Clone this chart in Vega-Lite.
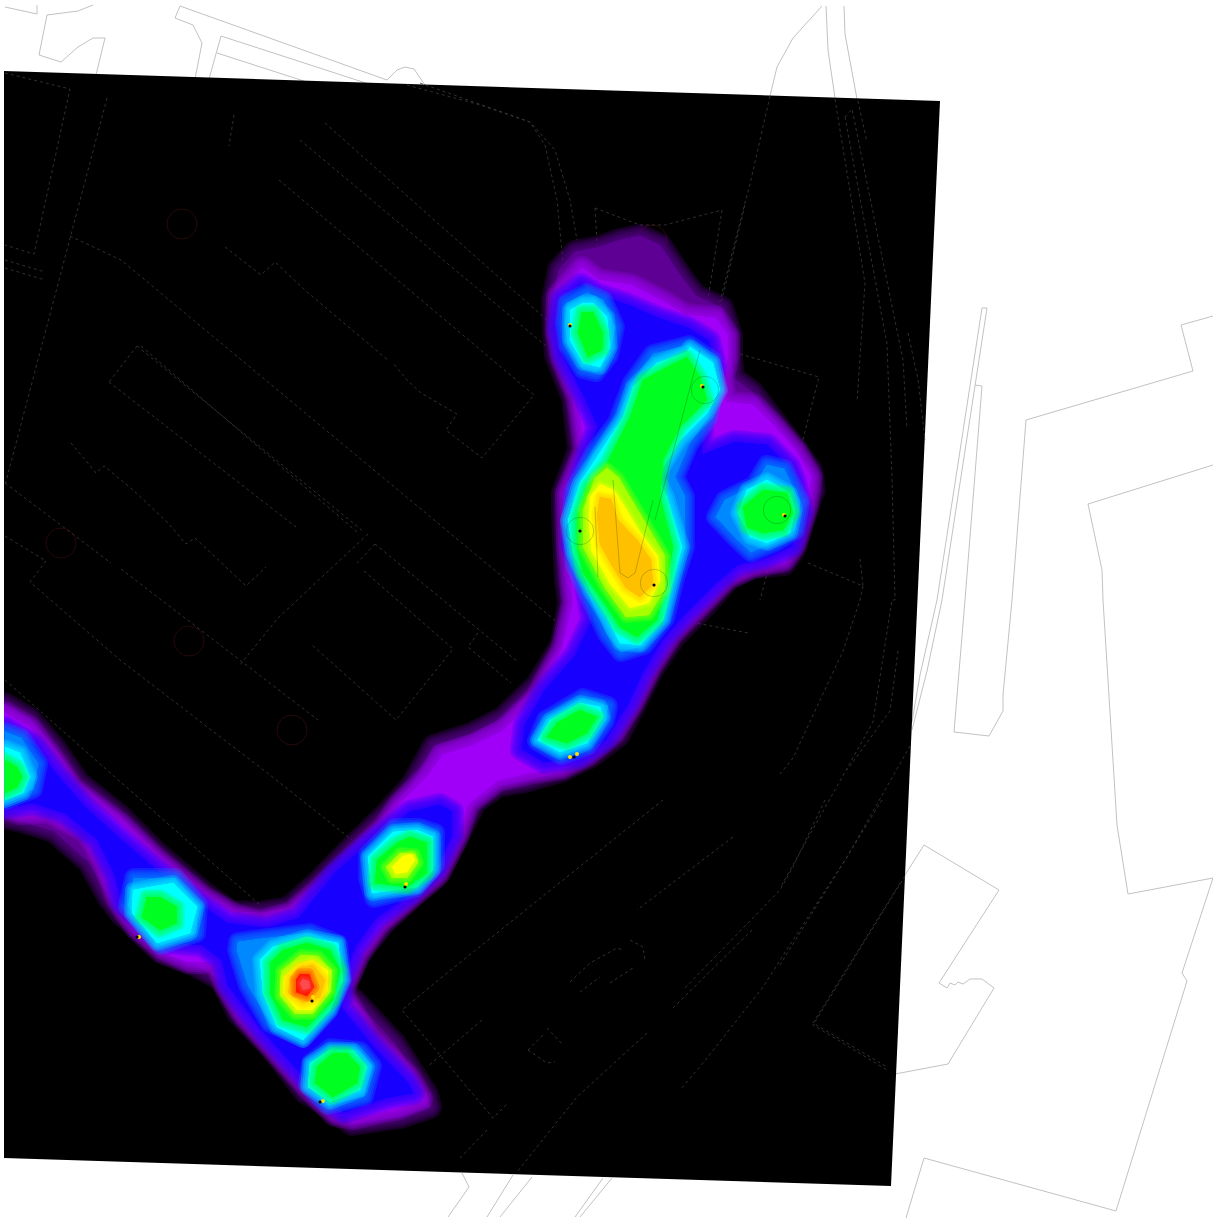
{"$schema":"https://vega.github.io/schema/vega-lite/v6.json","width":1213,"height":1218,"padding":0,"autosize":{"type":"none"},"background":"white","config":{"view":{"stroke":null}},
"projection":{"type":"identity","scale":1,"translate":[0,0]},
"datasets":{
"basemap":[{"name":"site outlines","shape":{"type":"MultiLineString","coordinates":[
[[5,7],[37,14],[37,5]],
[[93,5],[78,11],[47,15],[39,55],[61,62],[78,47],[93,38],[105,38],[96,75]],
[[180,6],[175,18],[193,25],[202,43],[195,79]],
[[180,6],[387,80],[397,70],[405,67],[414,69],[427,88]],
[[221,36],[209,79]],[[221,36],[375,86]],[[217,53],[310,83]],
[[822,6],[793,38],[777,67],[770,96]],[[826,6],[828,50],[835,98]],[[844,6],[845,34],[857,99]],
[[982,308],[987,308],[942,600],[927,671],[912,730]],[[982,308],[937,600],[920,675],[912,722]],
[[975,385],[982,386],[965,600],[954,732],[989,736],[1003,711],[1003,695],[1012,600],[1026,420],[1193,371],[1181,325],[1213,316]],
[[1213,465],[1088,504],[1102,570],[1103,600],[1117,825],[1128,894],[1213,878],[1182,973],[1187,981],[1116,1211],[924,1158],[906,1218]],
[[905,875],[924,845],[999,890],[939,983],[947,988],[950,983],[955,985],[958,982],[963,984],[970,979],[982,979],[994,988],[948,1064],[895,1074]],
[[462,1173],[469,1187],[448,1217]],[[513,1175],[487,1217]],[[532,1177],[500,1217]],[[603,1178],[575,1217]],[[612,1178],[580,1217]]
]}}],
"sheet":[{"name":"raster","shape":{"type":"Polygon","coordinates":[[[4,71],[940,101],[891,1186],[4,1158],[4,71]]]}}],
"mask":[{"name":"margin","shape":{"type":"Polygon","coordinates":[[[0,0],[4,0],[4,1218],[0,1218],[0,0]]]}}],
"plan":[{"name":"plan lines","shape":{"type":"MultiLineString","coordinates":[
[[5,73],[70,89],[34,254],[5,245]],[[107,98],[5,485]],[[234,115],[229,146]],
[[325,123],[548,321]],[[300,140],[546,346]],[[279,180],[534,395],[482,458],[446,430],[457,414],[421,393],[407,380],[393,363]],
[[225,247],[261,275],[275,262],[307,292],[389,361]],[[70,236],[121,260],[557,622]],
[[137,346],[364,532]],[[141,346],[357,532]],[[109,382],[296,527]],[[137,346],[109,382]],
[[71,443],[96,473],[104,466],[132,489],[168,523],[186,544],[195,538],[228,569],[246,586],[266,567]],
[[5,483],[111,563]],[[5,536],[46,561],[30,582],[120,660],[270,775],[352,840]],[[5,680],[260,905]],
[[121,569],[318,720]],[[368,534],[278,618],[239,666]],[[375,544],[357,563]],[[375,544],[518,662]],[[364,571],[453,649],[396,720],[312,645]],
[[478,633],[468,647],[511,683]],
[[5,260],[45,272]],[[5,268],[45,280]],
[[663,800],[447,973],[402,1010],[493,1118],[508,1103]],[[733,837],[637,910]],[[482,1020],[427,1067]],
[[647,1033],[577,1097],[517,1172]],[[825,800],[793,867],[780,890],[683,990]],[[882,800],[847,857],[793,940],[763,987],[703,1063],[680,1090]],
[[900,883],[813,1023],[887,1067]],[[487,1130],[460,1158]],[[752,930],[673,1008]],
[[570,982],[590,963],[617,948],[623,950]],[[580,992],[600,977]],[[610,983],[633,968]],[[630,940],[643,947],[645,960]],
[[528,1050],[545,1033]],[[547,1028],[563,1045]],[[528,1050],[547,1063],[555,1062]],
[[770,96],[750,184],[740,222],[700,380]],[[835,99],[865,283],[857,402]],[[845,117],[852,109],[903,360],[907,429]],[[845,117],[887,344],[892,478],[895,600],[892,600],[873,722],[780,888]],
[[858,101],[867,142]],[[908,333],[918,379],[925,440]],[[740,354],[819,377],[793,478],[760,600]],[[808,563],[863,586],[860,559]],[[863,586],[860,600],[843,651],[793,758],[780,774]],
[[910,746],[847,857],[780,965]],[[905,876],[813,1025],[887,1070]],[[898,651],[890,711],[847,770]],
[[407,85],[480,105],[530,122],[555,150],[570,200],[577,240]],[[420,83],[530,122],[545,145],[557,200],[565,283]],
[[595,208],[640,225],[665,225],[722,210],[700,350]],[[595,208],[600,290]],[[745,205],[712,340]],[[680,620],[748,633]]
]}}],
"contours":[
{"level":"a","pass":[1,2,3,4,5,6],"shape":{"type":"Polygon","coordinates":[[[575,252],[600,247],[620,240],[640,236],[660,245],[682,278],[696,296],[722,308],[731,335],[731,357],[733,378],[752,392],[772,418],[795,448],[811,470],[814,490],[811,497],[804,518],[794,550],[784,564],[753,567],[730,578],[703,608],[675,636],[652,670],[635,704],[618,736],[590,757],[561,771],[525,781],[498,786],[475,802],[454,844],[435,878],[413,895],[376,925],[361,950],[342,991],[354,1000],[395,1044],[427,1095],[430,1107],[400,1117],[352,1124],[331,1108],[305,1092],[272,1049],[238,1013],[222,980],[162,947],[122,915],[109,898],[89,862],[54,831],[22,821],[4,817],[4,704],[30,719],[55,748],[78,782],[119,815],[156,852],[203,892],[231,912],[260,913],[289,908],[318,882],[351,848],[385,815],[412,785],[434,746],[472,734],[503,718],[537,685],[562,644],[569,603],[566,580],[563,513],[563,493],[579,450],[573,398],[556,355],[554,333],[553,300],[559,270],[575,252]]]}},
{"level":"b","pass":[1,2,3,4,5,6],"shape":{"type":"Polygon","coordinates":[[[582,268],[558,296],[557,333],[562,358],[578,398],[585,450],[567,493],[568,547],[573,603],[562,650],[537,697],[503,731],[472,746],[443,755],[429,775],[399,805],[384,828],[317,892],[292,913],[260,922],[235,915],[204,898],[157,860],[121,825],[72,788],[55,762],[30,728],[4,713],[4,807],[20,813],[49,812],[87,832],[105,864],[118,900],[137,929],[162,952],[188,962],[217,962],[225,985],[245,1017],[277,1053],[304,1083],[335,1115],[353,1118],[398,1108],[421,1099],[408,1076],[368,1037],[342,993],[358,955],[383,923],[416,893],[439,873],[458,834],[468,804],[498,780],[528,773],[561,768],[587,755],[613,733],[632,704],[652,664],[672,633],[699,606],[727,578],[752,567],[784,560],[795,544],[807,505],[811,477],[796,451],[773,425],[753,405],[726,402],[722,380],[728,356],[728,336],[716,318],[685,315],[664,302],[631,285],[598,280],[582,268]]]}},
{"level":"c","pass":[1,2,3,4,5,6],"shape":{"type":"Polygon","coordinates":[[[581,285],[562,300],[558,327],[563,355],[585,398],[598,427],[588,452],[575,495],[572,545],[585,578],[592,620],[575,656],[545,690],[525,725],[522,749],[544,762],[578,758],[606,739],[628,704],[642,674],[662,640],[686,613],[716,583],[737,565],[765,558],[792,546],[802,512],[795,482],[789,467],[767,445],[735,442],[702,455],[702,427],[708,396],[715,367],[709,341],[688,328],[658,318],[628,305],[598,295],[581,285]]]}},
{"level":"c","pass":[1,2,3,4,5,6],"shape":{"type":"Polygon","coordinates":[[[5,728],[34,745],[56,774],[86,808],[119,838],[154,868],[197,902],[227,923],[267,928],[299,918],[336,872],[371,842],[410,812],[440,805],[452,812],[452,835],[436,869],[409,895],[376,918],[355,947],[342,981],[342,1009],[373,1046],[408,1083],[413,1093],[386,1098],[344,1112],[324,1099],[295,1067],[262,1030],[242,1004],[228,985],[222,960],[202,945],[162,942],[137,916],[122,903],[115,875],[98,840],[65,813],[33,803],[5,808],[5,728]]]}},
{"level":"d","pass":[2,3,4,5,6],"shape":{"type":"Polygon","coordinates":[[[567,303],[565,323],[568,345],[583,369],[596,372],[609,355],[615,327],[603,300],[587,293],[567,303]]]}},
{"level":"d","pass":[2,3,4,5,6],"shape":{"type":"Polygon","coordinates":[[[689,345],[712,360],[715,387],[708,418],[689,444],[675,477],[685,497],[685,547],[675,578],[665,618],[644,645],[621,652],[607,634],[591,600],[575,565],[570,523],[575,489],[594,453],[617,423],[632,383],[653,354],[689,345]]]}},
{"level":"d","pass":[2,3,4,5,6],"shape":{"type":"Polygon","coordinates":[[[755,485],[725,500],[716,517],[737,539],[751,552],[775,542],[795,530],[800,502],[784,469],[767,465],[755,485]]]}},
{"level":"d","pass":[2,3,4,5,6],"shape":{"type":"Polygon","coordinates":[[[583,698],[546,720],[537,741],[561,755],[587,746],[605,721],[608,706],[583,698]]]}},
{"level":"d","pass":[2,3,4,5,6],"shape":{"type":"Polygon","coordinates":[[[5,732],[21,738],[38,764],[33,789],[5,800],[5,732]]]}},
{"level":"d","pass":[2,3,4,5,6],"shape":{"type":"Polygon","coordinates":[[[134,878],[128,906],[144,926],[161,945],[196,933],[198,905],[175,878],[153,878],[134,878]]]}},
{"level":"d","pass":[2,3,4,5,6],"shape":{"type":"Polygon","coordinates":[[[395,828],[368,855],[368,878],[374,898],[415,888],[435,865],[435,833],[419,828],[395,828]]]}},
{"level":"d","pass":[2,3,4,5,6],"shape":{"type":"Polygon","coordinates":[[[238,942],[237,950],[248,985],[270,1023],[303,1038],[329,1010],[342,979],[338,944],[310,933],[268,938],[238,942]]]}},
{"level":"d","pass":[2,3,4,5,6],"shape":{"type":"Polygon","coordinates":[[[331,1048],[311,1063],[308,1085],[328,1105],[364,1096],[372,1066],[360,1051],[331,1048]]]}},
{"level":"e","pass":[3,4,5,6],"shape":{"type":"Polygon","coordinates":[[[583,303],[570,310],[570,340],[583,363],[600,367],[610,347],[607,317],[593,303],[583,303]]]}},
{"level":"e","pass":[3,4,5,6],"shape":{"type":"Polygon","coordinates":[[[690,347],[713,363],[720,390],[707,413],[680,440],[657,477],[667,497],[682,547],[673,580],[663,620],[640,645],[620,643],[607,617],[590,590],[573,553],[568,520],[580,483],[597,457],[623,417],[633,387],[657,363],[687,352],[690,347]]]}},
{"level":"e","pass":[3,4,5,6],"shape":{"type":"Polygon","coordinates":[[[747,490],[738,513],[750,537],[767,543],[790,533],[795,510],[790,493],[767,480],[747,490]]]}},
{"level":"e","pass":[3,4,5,6],"shape":{"type":"Polygon","coordinates":[[[580,703],[550,720],[538,740],[560,752],[587,743],[603,717],[600,707],[580,703]]]}},
{"level":"e","pass":[3,4,5,6],"shape":{"type":"Polygon","coordinates":[[[5,747],[20,753],[30,777],[23,793],[5,800],[5,747]]]}},
{"level":"e","pass":[3,4,5,6],"shape":{"type":"Polygon","coordinates":[[[133,890],[132,913],[157,943],[190,933],[197,907],[173,883],[150,887],[133,890]]]}},
{"level":"e","pass":[3,4,5,6],"shape":{"type":"Polygon","coordinates":[[[393,832],[368,857],[372,893],[417,887],[433,870],[433,837],[417,830],[393,832]]]}},
{"level":"e","pass":[3,4,5,6],"shape":{"type":"Polygon","coordinates":[[[260,960],[263,993],[277,1027],[303,1040],[330,1010],[343,980],[338,943],[307,937],[273,947],[260,960]]]}},
{"level":"e","pass":[3,4,5,6],"shape":{"type":"Polygon","coordinates":[[[330,1050],[310,1063],[308,1087],[330,1102],[360,1090],[367,1067],[353,1050],[330,1050]]]}},
{"level":"f","pass":[3,4,5,6],"shape":{"type":"Polygon","coordinates":[[[582,312],[578,333],[588,357],[602,350],[603,333],[593,312],[582,312]]]}},
{"level":"f","pass":[3,4,5,6],"shape":{"type":"Polygon","coordinates":[[[687,357],[700,377],[707,400],[680,427],[663,460],[660,497],[673,547],[667,580],[657,620],[637,637],[620,627],[607,607],[583,573],[577,547],[577,517],[587,487],[607,463],[630,417],[643,380],[667,367],[687,357]]]}},
{"level":"f","pass":[3,4,5,6],"shape":{"type":"Polygon","coordinates":[[[763,490],[743,507],[747,527],[763,533],[783,530],[793,513],[787,493],[763,490]]]}},
{"level":"f","pass":[3,4,5,6],"shape":{"type":"Polygon","coordinates":[[[580,710],[557,723],[547,737],[567,743],[587,733],[597,717],[580,710]]]}},
{"level":"f","pass":[3,4,5,6],"shape":{"type":"Polygon","coordinates":[[[5,760],[17,767],[22,777],[17,787],[5,793],[5,760]]]}},
{"level":"f","pass":[3,4,5,6],"shape":{"type":"Polygon","coordinates":[[[147,897],[142,917],[160,930],[177,923],[177,907],[160,897],[147,897]]]}},
{"level":"f","pass":[3,4,5,6],"shape":{"type":"Polygon","coordinates":[[[397,843],[377,860],[375,883],[407,887],[427,873],[427,843],[410,837],[397,843]]]}},
{"level":"f","pass":[3,4,5,6],"shape":{"type":"Polygon","coordinates":[[[270,963],[270,993],[283,1020],[307,1027],[333,1000],[340,970],[330,950],[307,943],[283,950],[270,963]]]}},
{"level":"f","pass":[3,4,5,6],"shape":{"type":"Polygon","coordinates":[[[333,1053],[317,1067],[315,1083],[333,1097],[357,1083],[360,1067],[347,1053],[333,1053]]]}},
{"level":"g","pass":[4,5,6],"shape":{"type":"Polygon","coordinates":[[[607,468],[595,478],[583,510],[583,547],[605,588],[626,617],[649,615],[665,589],[665,556],[648,527],[633,502],[619,478],[607,468]]]}},
{"level":"g","pass":[4,5,6],"shape":{"type":"Polygon","coordinates":[[[400,853],[386,867],[392,878],[407,878],[418,863],[415,854],[400,853]]]}},
{"level":"g","pass":[4,5,6],"shape":{"type":"Polygon","coordinates":[[[281,971],[280,996],[295,1014],[312,1014],[330,992],[332,971],[318,956],[301,955],[281,971]]]}},
{"level":"h","pass":[5,6],"shape":{"type":"Polygon","coordinates":[[[600,484],[590,497],[589,520],[591,550],[610,584],[630,608],[649,603],[660,580],[658,556],[640,532],[625,507],[614,490],[600,484]]]}},
{"level":"h","pass":[5,6],"shape":{"type":"Polygon","coordinates":[[[403,856],[392,867],[396,874],[407,872],[415,860],[412,854],[403,856]]]}},
{"level":"h","pass":[5,6],"shape":{"type":"Polygon","coordinates":[[[284,977],[283,993],[297,1010],[312,1010],[328,990],[328,971],[313,960],[298,964],[284,977]]]}},
{"level":"i","pass":[4,5,6],"shape":{"type":"Polygon","coordinates":[[[600,497],[611,499],[618,520],[638,541],[651,560],[653,584],[640,597],[626,588],[611,564],[600,544],[597,515],[600,497]]]}},
{"level":"i","pass":[4,5,6],"shape":{"type":"Polygon","coordinates":[[[290,977],[288,993],[303,1003],[320,997],[325,980],[313,965],[300,967],[290,977]]]}},
{"level":"j","pass":[4,5,6],"shape":{"type":"Polygon","coordinates":[[[296,980],[296,992],[307,996],[314,987],[309,974],[300,974],[296,980]]]}},
{"level":"k","pass":[5,6],"shape":{"type":"Polygon","coordinates":[[[300,983],[303,990],[310,988],[309,981],[303,979],[300,983]]]}}
],
"overlay":[{"name":"plan over heat","shape":{"type":"MultiLineString","coordinates":[[[613,480],[620,573],[628,578],[635,573],[653,500]],[[595,507],[598,577]],[[700,350],[655,520]]]}}],
"redRings":[{"lon":182,"lat":224},{"lon":61,"lat":543},{"lon":189,"lat":641},{"lon":292,"lat":730},{"lon":652,"lat":240}],
"greenRings":[{"lon":705,"lat":390},{"lon":654,"lat":583},{"lon":777,"lat":510},{"lon":580,"lat":531}],
"yellowDots":[{"lon":570,"lat":325},{"lon":702,"lat":386},{"lon":784,"lat":515},{"lon":570,"lat":757},{"lon":577,"lat":754},{"lon":406,"lat":884},{"lon":313,"lat":997},{"lon":139,"lat":937},{"lon":323,"lat":1101}],
"blackDots":[{"lon":570,"lat":326},{"lon":703,"lat":387},{"lon":580,"lat":531},{"lon":654,"lat":585},{"lon":785,"lat":516},{"lon":574,"lat":757},{"lon":405,"lat":887},{"lon":312,"lat":1001},{"lon":137,"lat":937},{"lon":320,"lat":1102}]
},
"layer":[
{"data":{"name":"basemap"},"mark":{"type":"geoshape","filled":false,"stroke":"#c2c2c2","strokeWidth":1},"encoding":{"shape":{"field":"shape","type":"geojson"}}},
{"data":{"name":"sheet"},"mark":{"type":"geoshape","fill":"#000000","stroke":null},"encoding":{"shape":{"field":"shape","type":"geojson"}}},
{"data":{"name":"plan"},"mark":{"type":"geoshape","filled":false,"stroke":"#3c3c3c","strokeWidth":0.8,"strokeDash":[3,3]},"encoding":{"shape":{"field":"shape","type":"geojson"}}},
{"data":{"name":"redRings"},"mark":{"type":"point","shape":"circle","size":900,"filled":false,"stroke":"#4a1010","strokeWidth":0.8},"encoding":{"longitude":{"field":"lon","type":"quantitative"},"latitude":{"field":"lat","type":"quantitative"}}},
{"data":{"name":"contours"},"transform":[{"flatten":["pass"]}],"mark":{"type":"geoshape","strokeOpacity":0.24,"strokeJoin":"round"},"encoding":{"shape":{"field":"shape","type":"geojson"},
"fill":{"field":"level","type":"nominal","legend":null,"scale":{"domain":["a","b","c","d","e","f","g","h","i","j","k"],"range":["#5e0094","#a000f8","#1800ff","#0088ff","#00ffff","#00ff20","#a8ff00","#ffff00","#ffc000","#ff1800","#ff4a50"]}},
"stroke":{"field":"level","type":"nominal","legend":null,"scale":{"domain":["a","b","c","d","e","f","g","h","i","j","k"],"range":["#5e0094","#a000f8","#1800ff","#0088ff","#00ffff","#00ff20","#a8ff00","#ffff00","#ffc000","#ff1800","#ff4a50"]}},
"strokeWidth":{"field":"pass","type":"quantitative","legend":null,"scale":{"domain":[1,6],"range":[24,3]}}}},
{"data":{"name":"overlay"},"mark":{"type":"geoshape","filled":false,"stroke":"#003000","strokeOpacity":0.35,"strokeWidth":0.7},"encoding":{"shape":{"field":"shape","type":"geojson"}}},
{"data":{"name":"greenRings"},"mark":{"type":"point","shape":"circle","size":750,"filled":false,"stroke":"#004020","strokeOpacity":0.5,"strokeWidth":0.7},"encoding":{"longitude":{"field":"lon","type":"quantitative"},"latitude":{"field":"lat","type":"quantitative"}}},
{"data":{"name":"yellowDots"},"mark":{"type":"point","shape":"circle","size":16,"filled":true,"fill":"#ffe000","opacity":1,"stroke":null},"encoding":{"longitude":{"field":"lon","type":"quantitative"},"latitude":{"field":"lat","type":"quantitative"}}},
{"data":{"name":"blackDots"},"mark":{"type":"point","shape":"circle","size":10,"filled":true,"fill":"#000000","opacity":1,"stroke":null},"encoding":{"longitude":{"field":"lon","type":"quantitative"},"latitude":{"field":"lat","type":"quantitative"}}},
{"data":{"name":"mask"},"mark":{"type":"geoshape","fill":"#ffffff","stroke":null},"encoding":{"shape":{"field":"shape","type":"geojson"}}}
]}
